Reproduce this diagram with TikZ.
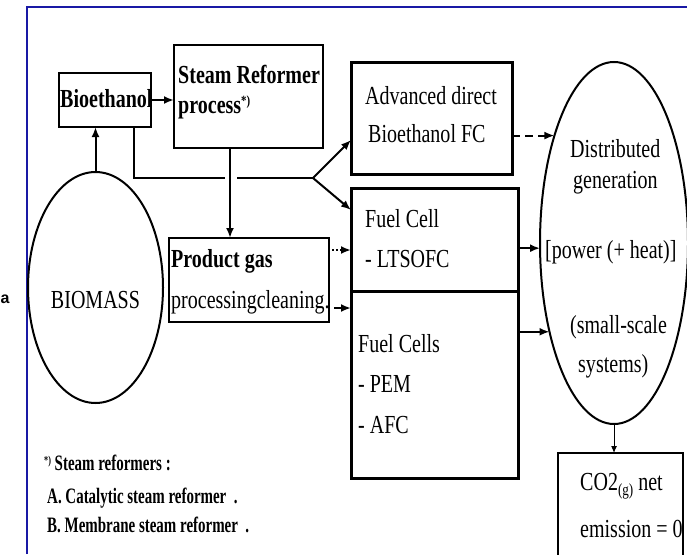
\documentclass[tikz,border=0pt]{standalone}
\usepackage{fontspec}
\usetikzlibrary{arrows.meta,shapes.geometric}
\newfontfamily\mainf{Liberation Serif}[FakeStretch=0.77]
\newfontfamily\footf{Liberation Serif}[FakeStretch=0.68]
\newfontfamily\sansf{Liberation Sans}
\newcommand\mytxt{\mainf\fontsize{26}{30}\selectfont}
\newcommand\myfoot{\footf\bfseries\fontsize{22}{26}\selectfont}
\definecolor{framblue}{RGB}{25,25,165}
\begin{document}
\begin{tikzpicture}[x=1pt,y=-1pt,
  box/.style={draw, rectangle, inner sep=0pt, outer sep=0pt, line width=1.5pt},
  tbox/.style={box, line width=3pt},
  oval/.style={draw, ellipse, inner sep=0pt, outer sep=0pt, line width=2pt},
  lbl/.style={anchor=base west, inner sep=0pt, font=\mytxt},
  clbl/.style={anchor=base, inner sep=0pt, font=\mytxt},
  flbl/.style={anchor=base west, inner sep=0pt, font=\myfoot},
  conn/.style={line width=2pt},
  arr/.style={line width=2pt, -{Latex[length=10pt,width=8pt]}},
  darr/.style={arr, dash pattern=on 8pt off 5pt},
  dotarr/.style={arr, dash pattern=on 2pt off 2pt},
  thinarr/.style={line width=1pt, -{Latex[length=7pt,width=6pt]}}]
\useasboundingbox (0,0) rectangle (687,554);
% frame
\draw[framblue, line width=2.5pt] (27,554) -- (27,7) -- (687,7);
\node[anchor=base, inner sep=0pt, font=\sansf\bfseries\fontsize{16}{16}\selectfont] (stray) at (5,303) {a};
% boxes
\node[box, minimum width=92pt, minimum height=54pt] (bioeth) at (105,100) {};
\node[box, minimum width=149pt, minimum height=103pt] (sr) at (248.5,96.5) {};
\node[box, minimum width=160pt, minimum height=84pt] (pg) at (249,280) {};
\node[tbox, minimum width=161pt, minimum height=112pt] (adv) at (431.5,118) {};
\node[tbox, minimum width=167pt, minimum height=103pt] (fc1) at (434.5,239.5) {};
\node[tbox, minimum width=167pt, minimum height=187pt] (fc2) at (434.5,384.5) {};
\node[box, line width=2.5pt, minimum width=125pt, minimum height=107pt] (co2) at (620.5,506.5) {};
\node[oval, minimum width=135pt, minimum height=231pt] (biomass) at (95.5,287.5) {};
\node[oval, minimum width=148pt, minimum height=362pt] (dg) at (614,243) {};
% texts
\node[lbl, font=\mytxt\bfseries] (tbio) at (60,107) {Bioethanol};
\node[lbl, font=\mytxt\bfseries] (tsr1) at (178,83) {Steam Reformer};
\node[lbl, font=\mytxt\bfseries] (tsr2) at (178,113) {process\raisebox{0.6ex}{\fontsize{14}{14}\selectfont *)}};
\node[lbl, font=\mytxt\bfseries] (tpg1) at (171,267) {Product gas};
\node[lbl] (tpg2) at (171,308) {processingcleaning.};
\node[clbl] (tbm) at (95.5,308) {BIOMASS};
\node[lbl] (tadv1) at (365,104) {Advanced direct};
\node[lbl] (tadv2) at (368,142) {Bioethanol FC};
\node[lbl] (tfc1a) at (365,227) {Fuel Cell};
\node[lbl] (tfc1b) at (365,267) {- LTSOFC};
\node[lbl] (tfc2a) at (358,352) {Fuel Cells};
\node[lbl] (tfc2b) at (358,392) {- PEM};
\node[lbl] (tfc2c) at (358,433) {- AFC};
\node[lbl] (tdg1) at (570,157) {Distributed};
\node[lbl] (tdg2) at (573,188) {generation};
\node[lbl] (tdg3) at (545,258) {[power (+ heat)]};
\node[lbl] (tdg4) at (570,333) {(small-scale};
\node[lbl] (tdg5) at (578,372) {systems)};
\node[lbl] (tco1) at (580,490) {CO2\raisebox{-0.45ex}{\fontsize{17}{17}\selectfont (g)} net};
\node[lbl] (tco2) at (580,537) {emission = 0};
\node[flbl] (tf1) at (44,470) {\raisebox{0.5ex}{\fontsize{12}{12}\selectfont *)} Steam reformers :};
\node[flbl] (tf2) at (47,503) {A. Catalytic steam reformer \ .};
\node[flbl] (tf3) at (47,532) {B. Membrane steam reformer \ .};
% connectors
\draw[arr] (biomass.north) -- (biomass.north |- bioeth.south);
\draw[arr] (bioeth.east) -- (bioeth.east -| sr.west);
\coordinate (fstart) at ([xshift=-17pt]bioeth.south east);
\coordinate (fork) at (313,178);
\coordinate (srb) at ([xshift=-18.5pt]sr.south);
\coordinate (gapl) at ([xshift=-5pt]srb |- fork);
\coordinate (gapr) at ([xshift=7pt]srb |- fork);
\draw[conn] (fstart) |- (gapl);
\draw[conn] (gapr) -- (fork);
\draw[arr] (fork) -- ([yshift=34pt]adv.south west);
\draw[arr] (fork) -- ([yshift=-22pt]fc1.north west);
\draw[arr] (srb) -- (srb |- pg.north);
\coordinate (p1) at ([xshift=3pt,yshift=-12pt]pg.north east);
\draw[dotarr] (p1) -- (p1 -| fc1.west);
\coordinate (p2) at ([xshift=5pt,yshift=14pt]pg.south east);
\draw[arr] (p2) -- (p2 -| fc2.west);
\draw[darr] (adv.east |- dg.119.2) -- (dg.119.2);
\draw[arr] (fc1.east |- dg.184) -- (dg.184);
\draw[arr] (fc2.east |- dg.234) -- (dg.234);
\draw[thinarr] (dg.south) -- (dg.south |- co2.north);
\end{tikzpicture}
\end{document}
